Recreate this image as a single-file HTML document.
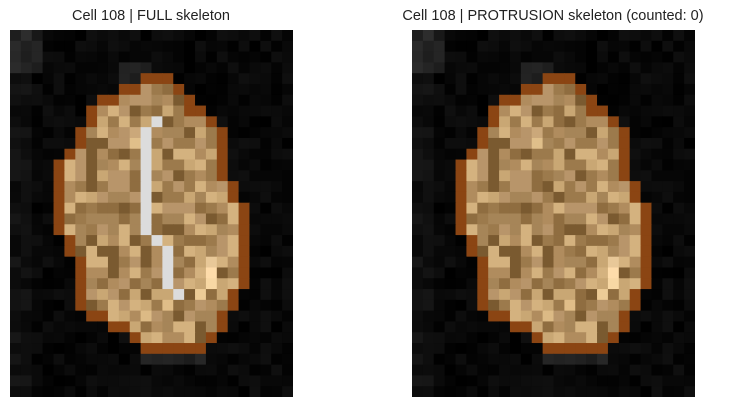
<!DOCTYPE html>
<html><head><meta charset="utf-8"><style>
body{margin:0;background:#fff;width:735px;height:410px;overflow:hidden;font-family:"Liberation Sans",sans-serif}
.t{position:absolute;top:8px;font-size:14.5px;color:#222;white-space:nowrap;transform:translateX(-50%)}
svg{position:absolute;top:30px}
</style></head><body>
<div class="t" style="left:151px">Cell 108 | FULL skeleton</div>
<div class="t" style="left:553px">Cell 108 | PROTRUSION skeleton (counted: 0)</div>
<svg id="s1" style="left:10px" width="283" height="367"></svg>
<svg id="s2" style="left:412px" width="283" height="367"></svg>
<script>
const COLS=26, ROWS=34;
const maskRows=[[5,[10,11],[15]],[6,[8,9],[16]],[7,[7],[16,17]],[8,[7],[18]],[9,[6],[19]],[10,[6],[19]],[11,[5],[19]],[12,[4],[19]],[13,[4],[19]],[14,[4],[20]],[15,[4],[20]],[16,[4],[21]],[17,[4],[21]],[18,[4],[21]],[19,[5],[21]],[20,[5],[21]],[21,[6],[21]],[22,[6],[21]],[23,[6],[21]],[24,[6],[20]],[25,[6],[20]],[26,[7,8],[19]],[27,[9,10],[19]],[28,[11],[18]]];
const fullOrange=[[4,[12,13,14]],[29,[12,13,14,15,16,17]]];
const skeleton=[[8,13],[9,12],[10,12],[11,12],[12,12],[13,12],[14,12],[15,12],[16,12],[17,12],[18,12],[19,13],[20,14],[21,14],[22,14],[23,14],[24,15]];
const tans=["#a68558","#b8956a","#c9a774","#8f6d40","#b08c5e","#7a5a30","#9c7a4c","#d4b27f"];
const bright={"21,18":"#e8c898","22,18":"#fedcaa","23,18":"#f8d8a4","24,17":"#eccb96","25,14":"#e0bd88","26,12":"#dcba85","10,11":"#e0bf8a","9,11":"#cba87a"};
function h(r,c){let x=(r*73856093)^(c*19349663);x=(x^(x>>>13))*1274126177;return Math.abs(x^(x>>>16));}
const S=283/COLS, T=367/ROWS;
function grid(){const g=[];for(let r=0;r<ROWS;r++){g.push([]);for(let c=0;c<COLS;c++){let v=h(r,c)%16;if(r<4&&c<3)v+=22;if(c<2)v+=8;if(r>28&&r<31&&c>11&&c<18)v+=25;if(r>2&&r<5&&c>9&&c<13)v+=22;const q=v.toString(16).padStart(2,'0');g[r].push('#'+q+q+q);}}
for(const [r,L,R] of maskRows){const a=Math.max(...L)+1,b=Math.min(...R)-1;L.forEach(c=>g[r][c]='#8b4513');R.forEach(c=>g[r][c]='#8b4513');for(let c=a;c<=b;c++)g[r][c]=bright[r+','+c]||tans[h(r+7,c+3)%tans.length];}
for(const [r,cs] of fullOrange)cs.forEach(c=>g[r][c]='#8b4513');return g;}
function draw(id,skel){const svg=document.getElementById(id);const g=grid();if(skel)for(const [r,c] of skeleton)g[r][c]='#dcdcdc';
let out='';for(let r=0;r<ROWS;r++)for(let c=0;c<COLS;c++)out+=`<rect x="${(c*S).toFixed(2)}" y="${(r*T).toFixed(2)}" width="${(S+0.6).toFixed(2)}" height="${(T+0.6).toFixed(2)}" fill="${g[r][c]}"/>`;svg.innerHTML=out;}
draw('s1',true);draw('s2',false);
</script>
</body></html>
